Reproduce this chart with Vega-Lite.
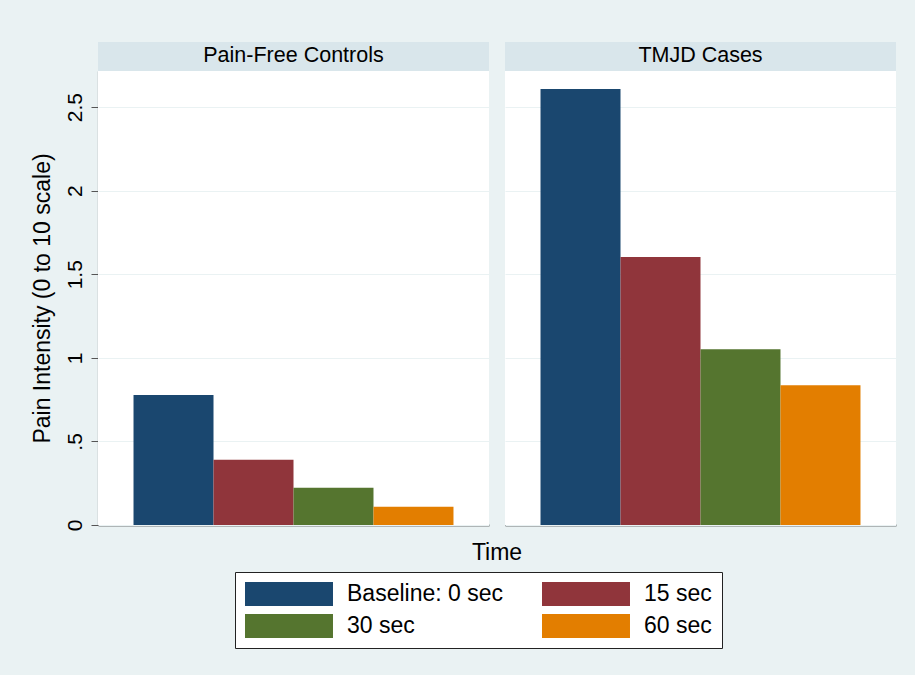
{
  "$schema": "https://vega.github.io/schema/vega-lite/v6.json",
  "background": "#eaf2f3",
  "padding": {"left": 31, "top": 42, "right": 19, "bottom": 27},
  "data": {"values": [
    {"group": "Pain-Free Controls", "time": "Baseline: 0 sec", "pain": 0.778},
    {"group": "Pain-Free Controls", "time": "15 sec", "pain": 0.391},
    {"group": "Pain-Free Controls", "time": "30 sec", "pain": 0.223},
    {"group": "Pain-Free Controls", "time": "60 sec", "pain": 0.109},
    {"group": "TMJD Cases", "time": "Baseline: 0 sec", "pain": 2.609},
    {"group": "TMJD Cases", "time": "15 sec", "pain": 1.603},
    {"group": "TMJD Cases", "time": "30 sec", "pain": 1.052},
    {"group": "TMJD Cases", "time": "60 sec", "pain": 0.836}
  ]},
  "facet": {
    "column": {
      "field": "group", "type": "nominal", "title": "Time",
      "header": {"labels": false, "titleOrient": "bottom", "titleFontSize": 23, "titleFont": "Liberation Sans", "titleColor": "black", "titleFontWeight": "normal", "titlePadding": 7}
    }
  },
  "spacing": 16,
  "spec": {
    "width": 391,
    "height": 483,
    "layer": [
      {
        "mark": {"type": "rect", "fill": "#d9e6eb", "strokeWidth": 0},
        "transform": [{"filter": "datum.time === 'Baseline: 0 sec'"}],
        "encoding": {
          "x": {"value": 0},
          "x2": {"value": "width"},
          "y": {"datum": 2.716},
          "y2": {"value": 0}
        }
      },
      {
        "mark": {"type": "text", "font": "Liberation Sans", "fontSize": 21.5, "color": "black", "align": "center", "baseline": "middle"},
        "transform": [{"filter": "datum.time === '15 sec'"}],
        "encoding": {
          "x": {"field": "time", "type": "nominal", "bandPosition": 1, "sort": ["Baseline: 0 sec", "15 sec", "30 sec", "60 sec"]},
          "y": {"datum": 2.803},
          "text": {"field": "group"}
        }
      },
      {
        "mark": {"type": "bar", "strokeWidth": 0},
        "encoding": {
          "x": {"field": "time", "type": "nominal", "sort": ["Baseline: 0 sec", "15 sec", "30 sec", "60 sec"],
            "scale": {"paddingInner": 0, "paddingOuter": 0.444},
            "axis": {"title": null, "labels": false, "ticks": false, "domain": true, "domainColor": "black", "domainWidth": 1.5, "grid": false}},
          "y": {"field": "pain", "type": "quantitative",
            "scale": {"domain": [0, 2.716], "range": [483, 29], "nice": false, "zero": true},
            "axis": {"title": "Pain Intensity (0 to 10 scale)", "values": [0, 0.5, 1, 1.5, 2, 2.5],
              "labelExpr": "datum.value == 0 ? '0' : (datum.value < 1 ? '.5' : format(datum.value, ''))",
              "labelAngle": -90, "labelAlign": "center", "labelBaseline": "bottom",
              "labelFontSize": 21, "labelFont": "Liberation Sans", "labelColor": "black", "labelPadding": 6,
              "tickSize": 7, "tickColor": "#555", "domain": true, "domainColor": "#555", "domainWidth": 1.2,
              "grid": true, "gridColor": "#eaf2f3", "gridWidth": 1.2,
              "titleFontSize": 23, "titleFont": "Liberation Sans", "titleColor": "black", "titleFontWeight": "normal", "titlePadding": 10}},
          "fill": {"field": "time", "type": "nominal", "sort": ["Baseline: 0 sec", "15 sec", "30 sec", "60 sec"],
            "scale": {"domain": ["Baseline: 0 sec", "15 sec", "30 sec", "60 sec"], "range": ["#1a476f", "#90353b", "#55752f", "#e37e00"]},
            "legend": {"title": null, "orient": "none", "legendX": 137, "legendY": 530, "direction": "horizontal", "columns": 2,
              "symbolType": "M-1,-1H6.333V1H-1Z", "symbolSize": 576, "symbolStrokeWidth": 0,
              "labelFontSize": 23, "labelFont": "Liberation Sans", "labelColor": "black", "labelOffset": 78, "labelLimit": 400,
              "columnPadding": 39, "rowPadding": 8, "padding": 10, "fillColor": "white", "strokeColor": "#222"}}
        }
      }
    ]
  },
  "config": {
    "view": {"fill": "white", "stroke": null},
    "axis": {"labelFont": "Liberation Sans", "titleFont": "Liberation Sans"}
  }
}
